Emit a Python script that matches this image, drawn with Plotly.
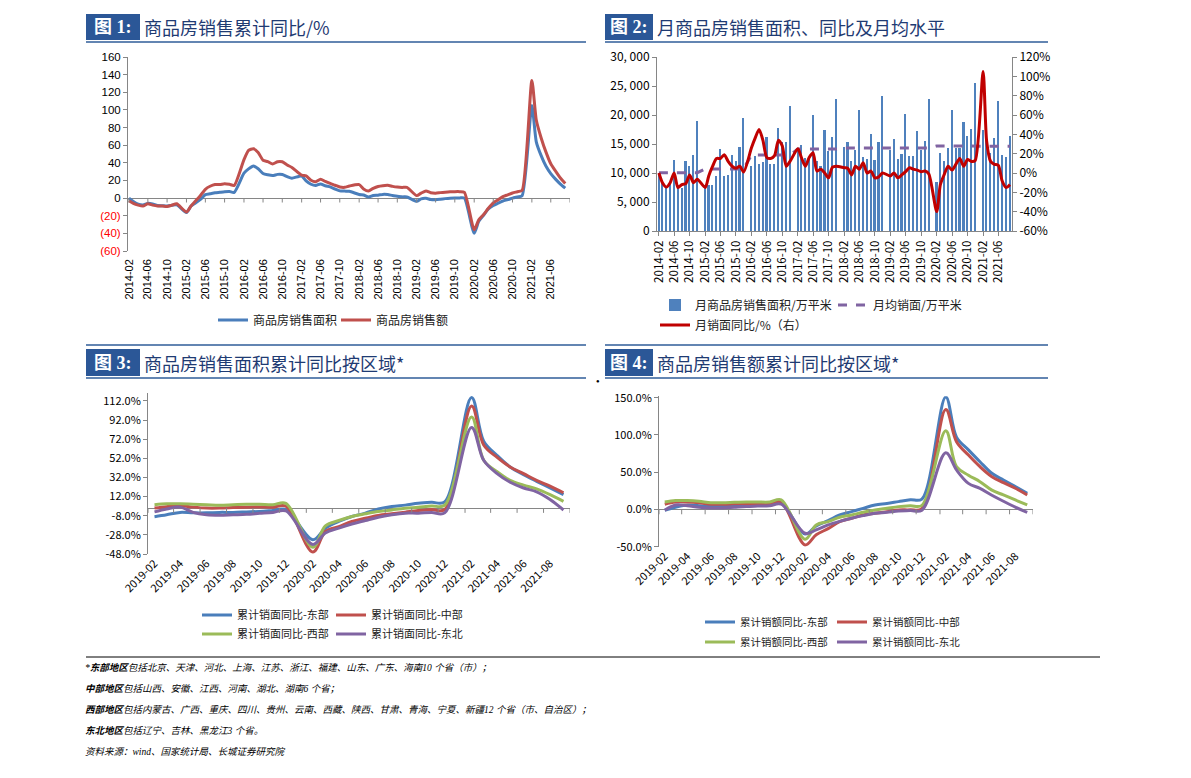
import plotly.graph_objects as go
import pandas as pd

W, H = 1191, 778
CJK = "Noto Sans CJK SC"
SANS = "Liberation Sans, Arial, sans-serif"
SERIF_CJK = "Liberation Serif, Noto Sans CJK SC"

def fx(p):
    return p / W

def fy(p):
    return 1 - p / H

def feb_to_dec(y0, y1, last_month):
    out = []
    for yr in range(y0, y1 + 1):
        for m in range(2, (12 if yr < y1 else last_month) + 1):
            out.append(f"{yr}-{m:02d}-01")
    return out

# ---------------- Figure 1: cumulative YoY (%) ----------------
dates1 = feb_to_dec(2014, 2021, 9)
area_cum_yoy = [
    -0.1, -3.8, -6.8, -7.8, -6.0, -6.7, -8.3, -8.6, -8.9, -8.2, -7.6,
    -16.3, -9.2, -5.4, -1.4, 3.9, 4.9, 6.0, 6.6, 7.2, 7.4, 6.5,
    28.2, 33.1, 36.5, 33.2, 27.9, 26.4, 25.5, 26.9, 26.8, 24.3, 22.5,
    25.1, 19.5, 15.7, 14.3, 16.1, 14.0, 12.7, 10.3, 8.2, 7.9, 7.7,
    4.1, 3.6, 1.3, 2.9, 3.3, 4.2, 4.0, 2.9, 2.2, 1.4, 1.3,
    -3.6, -0.9, -0.3, -1.6, -1.8, -1.3, -0.6, -0.1, 0.1, 0.2, -0.1,
    -39.9, -26.3, -19.3, -12.3, -8.4, -5.8, -3.3, -1.8, 0.0, 1.3, 2.6,
    104.9, 63.8, 48.1, 36.3, 27.7, 21.5, 15.9, 11.3,
]
value_cum_yoy = [
    -3.0, -6.0, -8.0, -9.0, -6.5, -8.0, -9.0, -9.0, -9.5, -8.0, -6.5,
    -15.8, -9.3, -3.1, 3.0, 10.0, 13.4, 15.3, 15.3, 16.3, 15.6, 14.4,
    43.6, 54.1, 55.9, 51.7, 42.9, 41.3, 38.7, 41.3, 41.2, 37.5, 34.8,
    26.1, 25.1, 20.2, 18.6, 21.5, 18.9, 16.6, 14.6, 12.6, 12.2, 13.7,
    15.3, 10.4, 8.0, 11.0, 13.2, 14.1, 14.5, 13.3, 12.5, 12.1, 12.2,
    2.8, 5.6, 8.1, 6.1, 5.6, 6.2, 6.7, 7.1, 7.3, 7.3, 6.5,
    -35.9, -24.7, -18.6, -11.6, -5.4, -2.1, 1.6, 3.7, 5.8, 7.2, 8.7,
    133.4, 88.5, 68.2, 52.4, 38.9, 30.7, 22.8, 16.6,
]
y1_ticks = [-60, -40, -20, 0, 20, 40, 60, 80, 100, 120, 140, 160]

# ---------------- Figure 2: monthly area, YoY, yearly monthly average ----------------
dates2 = feb_to_dec(2014, 2021, 9)
monthly_area = [
    10000, 8300, 7500, 8300, 12300, 8000, 7500, 12100, 11200, 13100, 19000,
    8000, 8000, 7900, 9500, 14100, 9500, 9700, 13100, 12000, 14400, 19400,
    11200, 12900, 11600, 11900, 16200, 11500, 11600, 17800, 15400, 15400, 21600,
    13800, 14800, 12600, 12400, 20000, 12100, 11200, 17400, 13800, 16200, 22800,
    14400, 15400, 12100, 13900, 20800, 12800, 12500, 16800, 12200, 15400, 23200,
    14000, 15800, 12400, 13300, 20200, 13000, 13000, 17200, 14000, 15500, 22700,
    8400, 13500, 12100, 14300, 20800, 14300, 14300, 18800, 16400, 17600, 25600,
    17400, 18000, 13500, 16000, 22400, 13100, 12700, 16300,
]
monthly_yoy = [
    0, -10, -14.5, -10, 0, -15, -12, -11, -2, -10, -6.5,
    -15, -3, 7, 15, 15, 19, 12, 7, 5, 7, 1,
    26, 36, 45, 34, 16, 15, 18, 34, 28, 7, 12,
    25, 16, 7, 16, 21, 2, 4, 0, -5, 6, 7,
    5.5, 5, -2, 7, 4, 10.7, 0, 2, -5, -4, 0,
    -3, 0, -5, -2, 1.4, 5.5, 4, 3, 1.4, 2, -1,
    -39.9, -12, -1.4, 7, 3, 9, 15, 7, 14, 12, 13,
    105, 33, 12, 9, 8, -8, -15, -12,
]
years2 = [2014, 2015, 2016, 2017, 2018, 2019, 2020, 2021]
yearly_monthly_avg = [10054, 10708, 13112, 14117, 14305, 14297, 14674, 14600]
avg_by_year = dict(zip(years2, yearly_monthly_avg))
monthly_avg_series = [avg_by_year[int(d[:4])] for d in dates2]
y2_left_ticks = [0, 5000, 10000, 15000, 20000, 25000, 30000]
y2_left_text = ["0", "5, 000", "10, 000", "15, 000", "20, 000", "25, 000", "30, 000"]
y2_right_ticks = [-60, -40, -20, 0, 20, 40, 60, 80, 100, 120]

# ---------------- Figure 3: cumulative area YoY by region ----------------
dates3 = feb_to_dec(2019, 2021, 9)
area_east = [-9, -7, -4.5, -5, -5, -4.5, -4.5, -4, -3.5, -2.5, -1.5,
             -33, -21, -14, -8.8, -5.3, -1, 1.7, 3.1, 5, 6, 6.5,
             115.5, 70, 55, 43, 35, 28, 21, 14]
area_central = [0, 1.5, 2.5, 1, 0, 0, 0.5, 1, 1.2, 1, 2,
                -46, -24.5, -19.3, -14, -10.6, -7.7, -6, -4.3, -2.6, -1.5, -1.5,
                106.8, 66, 53, 43, 36, 29, 23, 16]
area_west = [3.5, 4.5, 4.5, 4, 3.5, 3, 3.5, 4, 4, 3.5, 5,
             -41, -18.6, -13, -8.8, -6, -3.6, -1.9, -0.2, 0.9, 2.2, 3,
             95.3, 50, 38, 29, 24, 20, 14, 7]
area_northeast = [-4, -1, 1, -4.5, -7, -7.5, -7, -6.5, -5.5, -4.5, -3,
                  -38, -26, -21, -16.7, -13, -9.5, -7, -5.3, -5.3, -4.6, -5,
                  84.3, 50, 36, 27, 21, 17, 9, -2]
y3_ticks = [-48, -28, -8, 12, 32, 52, 72, 92, 112]

# ---------------- Figure 4: cumulative sales value YoY by region ----------------
dates4 = feb_to_dec(2019, 2021, 9)
value_east = [-1, 3, 6, 5, 4, 4, 5, 6, 6.5, 7, 9,
              -33, -22, -15, -7.4, -3, 1.5, 6, 8, 10.5, 13, 14,
              151, 97, 80, 64, 48.5, 39.5, 30.6, 21.7]
value_central = [7, 10, 10, 9, 7, 7, 7.5, 8, 8, 8, 10,
                 -47.6, -34, -25.7, -16.3, -11.8, -7.4, -5.2, -3, -0.7, -0.5, 1,
                 134, 91, 73, 57.4, 44, 36, 28.4, 19.4]
value_west = [10, 12, 12, 11, 9, 9, 9.5, 10, 10, 10, 13,
              -40, -20.8, -16.3, -10.5, -7.4, -3.8, -0.7, 1.6, 3.8, 5, 5.5,
              105.6, 57.4, 46, 37.3, 26, 19.4, 12.7, 6]
value_northeast = [-1, 6, 5, 3, 2, 2, 3, 4, 4.5, 5, 7,
                   -32, -27.5, -20.8, -16, -11.8, -8.3, -5.2, -3.8, -2, -1.5, -1,
                   76, 53, 35, 28.4, 19, 11, 3, -4]
y4_ticks = [-50, 0, 50, 100, 150]

BLUE = "#4A7EBB"
RED = "#C0504D"
GREEN = "#9BBB59"
PURPLE = "#8064A2"
AXIS = "#868686"

fig = go.Figure()
legend_specs = []  # (legend id, text start px, row centre px, font size)

def add_legend(text_x, row_y, size):
    lid = "legend" if not legend_specs else f"legend{len(legend_specs) + 1}"
    legend_specs.append((lid, text_x, row_y, size))
    return lid

# Figure 1 traces
fig.add_trace(go.Scatter(x=dates1, y=area_cum_yoy, name="商品房销售面积", mode="lines",
                         line=dict(color=BLUE, width=3, shape="spline", smoothing=0.6),
                         xaxis="x", yaxis="y", legend=add_legend(253, 320, 12)))
fig.add_trace(go.Scatter(x=dates1, y=value_cum_yoy, name="商品房销售额", mode="lines",
                         line=dict(color=RED, width=3, shape="spline", smoothing=0.6),
                         xaxis="x", yaxis="y", legend=add_legend(376, 320, 12)))

# Figure 2 traces
fig.add_trace(go.Bar(x=dates2, y=monthly_area, name="月商品房销售面积/万平米",
                     marker=dict(color="#4F81BD", line=dict(width=0)), width=13 * 86400000,
                     xaxis="x2", yaxis="y2", legend=add_legend(695, 305, 12)))
fig.add_trace(go.Scatter(x=dates2, y=monthly_avg_series, name="月均销面/万平米", mode="lines",
                         line=dict(color=PURPLE, width=3, dash="dash"),
                         xaxis="x2", yaxis="y2", legend=add_legend(873, 305, 12)))
fig.add_trace(go.Scatter(x=dates2, y=monthly_yoy, name="月销面同比/%（右）", mode="lines",
                         line=dict(color="#C00000", width=3, shape="spline", smoothing=0.7),
                         xaxis="x2", yaxis="y3", legend=add_legend(695, 325, 12)))

# Figure 3 traces
for nm, ys, col, tx, ty in [("累计销面同比-东部", area_east, BLUE, 237, 615),
                            ("累计销面同比-中部", area_central, RED, 371, 615),
                            ("累计销面同比-西部", area_west, GREEN, 237, 634),
                            ("累计销面同比-东北", area_northeast, PURPLE, 371, 634)]:
    fig.add_trace(go.Scatter(x=dates3, y=ys, name=nm, mode="lines",
                             line=dict(color=col, width=3, shape="spline", smoothing=1),
                             xaxis="x3", yaxis="y4", legend=add_legend(tx, ty, 11)))

# Figure 4 traces
for nm, ys, col, tx, ty in [("累计销额同比-东部", value_east, BLUE, 740, 622),
                            ("累计销额同比-中部", value_central, RED, 872, 622),
                            ("累计销额同比-西部", value_west, GREEN, 740, 642),
                            ("累计销额同比-东北", value_northeast, PURPLE, 872, 642)]:
    fig.add_trace(go.Scatter(x=dates4, y=ys, name=nm, mode="lines",
                             line=dict(color=col, width=3, shape="spline", smoothing=1),
                             xaxis="x4", yaxis="y5", legend=add_legend(tx, ty, 10.5)))

# tick lists
ticks1 = pd.date_range("2014-02-01", "2021-06-01", freq="4MS")
ticks2 = pd.date_range("2014-02-01", "2021-06-01", freq="4MS")
ticks34 = pd.date_range("2019-02-01", "2021-08-01", freq="2MS")

def neg_paren(v):
    if v < 0:
        return f"<span style='color:#FF0000'>({abs(v)})</span>"
    return str(v)

common_x = dict(showgrid=False, zeroline=False, type="date", automargin=False)
common_y = dict(showgrid=False, showline=True, linecolor=AXIS, linewidth=1,
                ticks="outside", ticklen=4, tickcolor=AXIS, automargin=False)

layout = dict(
    width=W, height=H, margin=dict(l=0, r=0, t=0, b=0, pad=0, autoexpand=False),
    paper_bgcolor="white", plot_bgcolor="rgba(0,0,0,0)",
    showlegend=True, bargap=0,
    xaxis=dict(domain=[fx(128), fx(570)], anchor="y", range=["2014-01-26", "2021-10-01"],
               tickmode="array", tickvals=ticks1, ticktext=[d.strftime("%Y-%m") for d in ticks1],
               tickangle=-90, ticks="", showline=False, ticklabelstandoff=5,
               tickfont=dict(family=SANS, size=11, color="black"), **common_x),
    yaxis=dict(domain=[fy(251), fy(57)], anchor="x", range=[-60, 160],
               tickmode="array", tickvals=y1_ticks, ticktext=[neg_paren(v) for v in y1_ticks],
               zeroline=True, zerolinecolor=AXIS, zerolinewidth=1,
               tickfont=dict(family=SANS, size=11.5, color="black"), **common_y),
    xaxis2=dict(domain=[fx(657), fx(1012)], anchor="y2", range=["2014-01-17", "2021-09-17"],
                tickmode="array", tickvals=ticks2, ticktext=[d.strftime("%Y-%m") for d in ticks2],
                tickangle=-90, ticks="outside", ticklen=4, tickcolor=AXIS,
                showline=True, linecolor=AXIS, linewidth=1,
                tickfont=dict(family=CJK, size=11.5, color="black"), **common_x),
    yaxis2=dict(domain=[fy(231), fy(57)], anchor="x2", range=[0, 30000],
                tickmode="array", tickvals=y2_left_ticks, ticktext=y2_left_text, zeroline=False,
                tickfont=dict(family=CJK, size=12, color="black"), **common_y),
    yaxis3=dict(overlaying="y2", side="right", anchor="x2", range=[-60, 120],
                tickmode="array", tickvals=y2_right_ticks, ticktext=[f"{v}%" for v in y2_right_ticks],
                zeroline=False, tickfont=dict(family=CJK, size=12, color="black"), **common_y),
    xaxis3=dict(domain=[fx(148), fx(570)], anchor="y4", range=["2019-01-17", "2021-09-16"],
                tickmode="array", tickvals=ticks34, ticktext=[d.strftime("%Y-%m") for d in ticks34],
                tickangle=-45, ticks="", showline=False,
                tickfont=dict(family=CJK, size=11, color="black"), **common_x),
    yaxis4=dict(domain=[fy(554), fy(393.3)], anchor="x3", range=[-48, 120],
                tickmode="array", tickvals=y3_ticks, ticktext=[f"{v:.1f}%" for v in y3_ticks],
                zeroline=True, zerolinecolor=AXIS, zerolinewidth=1,
                tickfont=dict(family=CJK, size=11, color="black"), **common_y),
    xaxis4=dict(domain=[fx(659), fx(1033)], anchor="y5", range=["2019-01-17", "2021-09-16"],
                tickmode="array", tickvals=ticks34, ticktext=[d.strftime("%Y-%m") for d in ticks34],
                tickangle=-45, ticks="", showline=False,
                tickfont=dict(family=CJK, size=11, color="black"), **common_x),
    yaxis5=dict(domain=[fy(546.7), fy(396.2)], anchor="x4", range=[-50, 152],
                tickmode="array", tickvals=y4_ticks, ticktext=[f"{v:.1f}%" for v in y4_ticks],
                zeroline=True, zerolinecolor=AXIS, zerolinewidth=1,
                tickfont=dict(family=CJK, size=11, color="black"), **common_y),
)

for lid, tx, ty, size in legend_specs:
    layout[lid] = dict(orientation="h", bgcolor="rgba(0,0,0,0)", xanchor="left", yanchor="middle",
                       x=fx(tx - 40), y=fy(ty), itemwidth=30, tracegroupgap=0,
                       font=dict(family=CJK, size=size, color="#222"))

fig.update_layout(**layout)

# ---------- small tick marks hanging from the zero lines ----------
shapes = []
for d in pd.date_range("2014-02-01", "2021-10-01", freq="4MS"):
    shapes.append(dict(type="line", xref="x", yref="y", x0=d, x1=d, y0=0, y1=-5,
                       line=dict(color=AXIS, width=1)))
for d in pd.date_range("2019-02-01", "2021-10-01", freq="2MS") - pd.Timedelta(days=15):
    shapes.append(dict(type="line", xref="x3", yref="y4", x0=d, x1=d, y0=0, y1=-5,
                       line=dict(color=AXIS, width=1)))
    shapes.append(dict(type="line", xref="x4", yref="y5", x0=d, x1=d, y0=0, y1=-6.5,
                       line=dict(color=AXIS, width=1)))

# ---------- section headers ----------
BOX = "#2B5797"
HLINE = "#2F5C99"
TITLE_C = "#1F3B73"

headers = [
    (86, 140, 14, 40, 586, "图 1:", "商品房销售累计同比/%", False),
    (605, 653, 14, 40, 1048, "图 2:", "月商品房销售面积、同比及月均水平", False),
    (86, 140, 349, 376, 586, "图 3:", "商品房销售面积累计同比按区域*", True),
    (605, 653, 349, 376, 1048, "图 4:", "商品房销售额累计同比按区域*", True),
]
annotations = []
for bx0, bx1, by0, by1, lx1, lab, title, top in headers:
    shapes.append(dict(type="rect", xref="paper", yref="paper", x0=fx(bx0), x1=fx(bx1),
                       y0=fy(by1), y1=fy(by0), fillcolor=BOX, line=dict(width=0)))
    shapes.append(dict(type="line", xref="paper", yref="paper", x0=fx(bx0), x1=fx(lx1),
                       y0=fy(by1 + 2), y1=fy(by1 + 2), line=dict(color=HLINE, width=1.5)))
    if top:
        shapes.append(dict(type="line", xref="paper", yref="paper", x0=fx(bx0), x1=fx(lx1),
                           y0=fy(by0 - 4), y1=fy(by0 - 4), line=dict(color=HLINE, width=1.5)))
    annotations.append(dict(xref="paper", yref="paper", x=fx((bx0 + bx1) / 2), y=fy((by0 + by1) / 2),
                            text=f"<b>{lab}</b>", showarrow=False, xanchor="center", yanchor="middle",
                            font=dict(family=SERIF_CJK, size=18, color="white")))
    annotations.append(dict(xref="paper", yref="paper", x=fx(bx1 + 2), y=fy((by0 + by1) / 2),
                            text=title, showarrow=False, xanchor="left", yanchor="middle",
                            font=dict(family=CJK, size=18, color=TITLE_C)))

# footnote rule
shapes.append(dict(type="line", xref="paper", yref="paper", x0=fx(86), x1=fx(1100),
                   y0=fy(657), y1=fy(657), line=dict(color="black", width=1)))

foot_lines = [
    ("*<b>东部地区</b>包括北京、天津、河北、上海、江苏、浙江、福建、山东、广东、海南10 个省（市）；", 667),
    ("<b>中部地区</b>包括山西、安徽、江西、河南、湖北、湖南6 个省；", 688),
    ("<b>西部地区</b>包括内蒙古、广西、重庆、四川、贵州、云南、西藏、陕西、甘肃、青海、宁夏、新疆12 个省（市、自治区）；", 709),
    ("<b>东北地区</b>包括辽宁、吉林、黑龙江3 个省。", 730),
    ("资料来源：wind、国家统计局、长城证券研究院", 751),
]
for txt, yy in foot_lines:
    annotations.append(dict(xref="paper", yref="paper", x=fx(83), y=fy(yy), text=f"<i>{txt}</i>",
                            showarrow=False, xanchor="left", yanchor="middle",
                            font=dict(family=SERIF_CJK, size=9.5, color="black")))

annotations.append(dict(xref="paper", yref="paper", x=fx(598), y=fy(381), text="●", showarrow=False,
                        xanchor="center", yanchor="middle", font=dict(family=SANS, size=6, color="black")))

fig.update_layout(shapes=shapes, annotations=annotations)
fig.write_html("out.html")
